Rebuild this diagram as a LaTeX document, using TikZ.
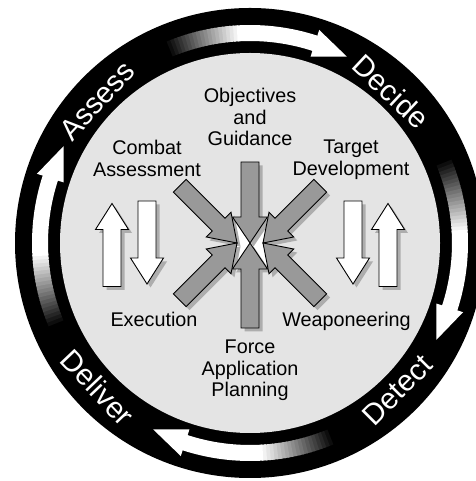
\documentclass[tikz,border=0pt]{standalone}
\usepackage{fontspec}
\newfontfamily\arialf{Liberation Sans}
\usetikzlibrary{calc}
\definecolor{diskgray}{HTML}{E4E4E4}
\definecolor{arrowgray}{HTML}{999999}
\definecolor{shadowgray}{HTML}{ADADAD}
\begin{document}
\begin{tikzpicture}[x=1pt,y=1pt,
  outl/.style={draw=black, line width=0.9pt, line join=miter},
  graya/.style={outl, fill=arrowgray},
  whitea/.style={outl, fill=white},
  shad/.style={fill=shadowgray, draw=none},
  inlabel/.style={font=\arialf\fontsize{19.8}{21.5}\selectfont, align=center, inner sep=0pt, text=black},
  ringlabel/.style={font=\arialf\fontsize{29.5}{31}\selectfont, inner sep=0pt, text=white},
  pics/grayarrow/.style={code={\path[pic actions] (0,0) -- (-26,17.5) -- (-26,9) -- (-#1,9) -- (-#1,-9) -- (-26,-9) -- (-26,-17.5) -- cycle;}},
  pics/whitearrow/.style={code={\path[pic actions] (0,0) -- (-26,16.5) -- (-26,9) -- (-83,9) -- (-83,-9) -- (-26,-9) -- (-26,-16.5) -- cycle;}}
]
\useasboundingbox (0,0) rectangle (475,481);
\coordinate (C) at (250,238);
% rings
\fill[black] (C) circle[radius=235pt];
\fill[diskgray] (C) circle[radius=190pt];
% circular arrows with fades
\foreach \kk in {0,1,2,3}{
  \pgfmathsetmacro\gs{113.5-90*\kk}
  \foreach \i in {0,...,19}{
    \pgfmathsetmacro\ga{\gs-\i}
    \pgfmathsetmacro\gb{\gs-\i-1.4}
    \pgfmathtruncatemacro\gp{5*\i}
    \draw[line width=16pt, color=white!\gp!black] (C) ++(\ga:210pt) arc[start angle=\ga, end angle=\gb, radius=210pt];
  }
  \pgfmathsetmacro\gw{\gs-20}
  \pgfmathsetmacro\eb{\gs-41.5}
  \pgfmathsetmacro\ebb{\gs-42}
  \pgfmathsetmacro\et{\gs-51}
  \draw[line width=16pt, white] (C) ++(\gw:210pt) arc[start angle=\gw, end angle=\ebb, radius=210pt];
  \fill[white, shift={(C)}] (\eb:196pt) -- (\eb:224pt) -- (\et:210pt) -- cycle;
}
% ring labels
\node[ringlabel, rotate=47] (assess) at ($(C)+(137:209pt)$) {Assess};
\node[ringlabel, rotate=-43] (decide) at ($(C)+(47:207pt)$) {Decide};
\node[ringlabel, rotate=45] (detect) at ($(C)+(-45:208pt)$) {Detect};
\node[ringlabel, rotate=-46.5] (deliver) at ($(C)+(-136.5:210pt)$) {Deliver};
% centre white bow tie
\fill[white] (232,264) -- (268,264) -- (263,238) -- (268,211) -- (232,211) -- (237,238) -- cycle;
% shadows
\pic[shad, rotate=-90] at (253.5,234.5) {grayarrow=81};
\pic[shad, rotate=90] at (253.5,234.5) {grayarrow=85};
\pic[shad, rotate=-45] at (240.5,234.5) {grayarrow=81};
\pic[shad, rotate=45] at (240.5,234.5) {grayarrow=81};
\pic[shad, rotate=-135] at (266.5,234.5) {grayarrow=81};
\pic[shad, rotate=135] at (266.5,234.5) {grayarrow=81};
\pic[shad, rotate=90] at (115.5,274) {whitearrow};
\pic[shad, rotate=-90] at (150.5,193.5) {whitearrow};
\pic[shad, rotate=-90] at (356.5,193.5) {whitearrow};
\pic[shad, rotate=90] at (391.5,274) {whitearrow};
% gray arrows
\pic[graya, rotate=-90] at (250,238) {grayarrow=81};
\pic[graya, rotate=90] at (250,238) {grayarrow=85};
\pic[graya, rotate=-45] at (237,238) {grayarrow=81};
\pic[graya, rotate=45] at (237,238) {grayarrow=81};
\pic[graya, rotate=-135] at (263,238) {grayarrow=81};
\pic[graya, rotate=135] at (263,238) {grayarrow=81};
% white arrows
\pic[whitea, rotate=90] at (112,277.5) {whitearrow};
\pic[whitea, rotate=-90] at (147,197) {whitearrow};
\pic[whitea, rotate=-90] at (353,197) {whitearrow};
\pic[whitea, rotate=90] at (388,277.5) {whitearrow};
% labels
\node[inlabel, anchor=north] (obj) at (250,393) {Objectives\\and\\Guidance};
\node[inlabel, anchor=north] (cba) at (147,341) {Combat\\Assessment};
\node[inlabel, anchor=north] (tgt) at (351,341) {Target\\Development};
\node[inlabel, anchor=base] (exe) at (154,154) {Execution};
\node[inlabel, anchor=base] (wpn) at (346.5,154) {Weaponeering};
\node[inlabel, anchor=north] (fap) at (250,141) {Force\\Application\\Planning};
\end{tikzpicture}
\end{document}
